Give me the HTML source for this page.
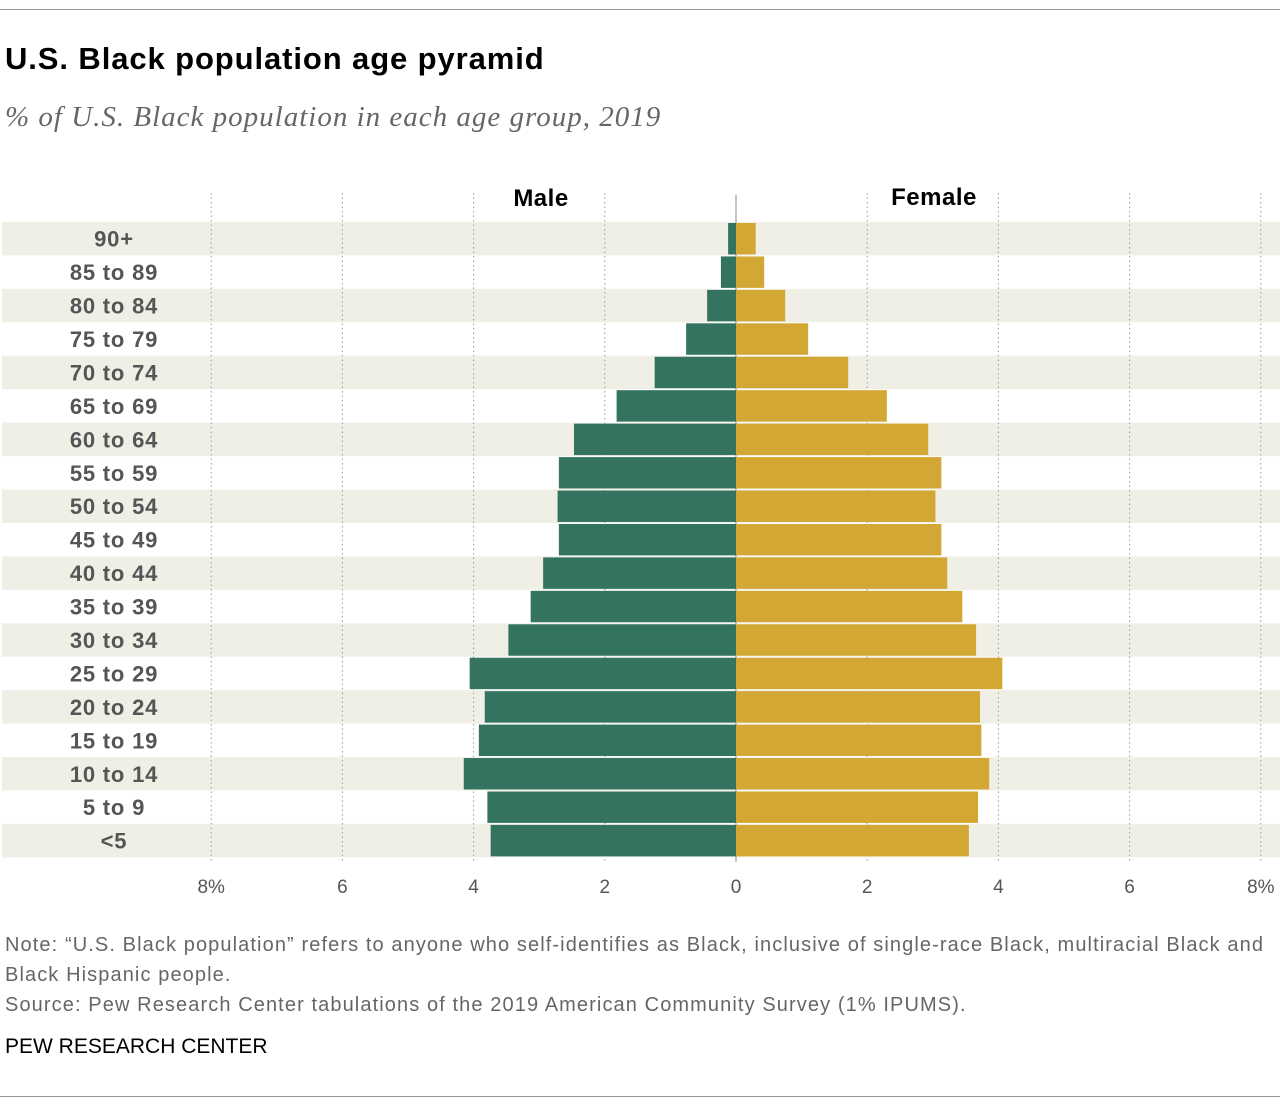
<!DOCTYPE html>
<html><head><meta charset="utf-8">
<style>
body{margin:0;background:#fff;font-family:"Liberation Sans",sans-serif;}
#wrap{position:relative;width:1280px;height:1119px;overflow:hidden;}
.rule{position:absolute;left:0;width:1280px;height:1px;background:#999;}
h1{position:absolute;left:5px;top:41px;margin:0;font-size:31px;letter-spacing:0.9px;font-weight:bold;color:#000;}
.sub{position:absolute;left:5px;top:101px;font-family:"Liberation Serif",serif;font-style:italic;font-size:29px;letter-spacing:1px;color:#666;}
.note{position:absolute;left:5px;top:930px;font-size:20px;letter-spacing:1.1px;line-height:30px;color:#666;width:1280px;}
.src{position:absolute;left:5px;top:1035px;font-size:21px;color:#000;}
</style></head><body>
<div id="wrap">
<div class="rule" style="top:9px"></div>
<h1>U.S. Black population age pyramid</h1>
<div class="sub">% of U.S. Black population in each age group, 2019</div>
<svg id="chart" width="1280" height="910" style="position:absolute;left:0;top:0"></svg>
<div class="note">Note: “U.S. Black population” refers to anyone who self-identifies as Black, inclusive of single-race Black, multiracial Black and Black Hispanic people.<br>Source: Pew Research Center tabulations of the 2019 American Community Survey (1% IPUMS).</div>
<div class="src">PEW RESEARCH CENTER</div>
<div class="rule" style="top:1096px"></div>
</div>
<script>
const categories=["90+","85 to 89","80 to 84","75 to 79","70 to 74","65 to 69","60 to 64","55 to 59","50 to 54","45 to 49","40 to 44","35 to 39","30 to 34","25 to 29","20 to 24","15 to 19","10 to 14","5 to 9","<5"];
const maleValues=[0.12,0.23,0.44,0.76,1.24,1.82,2.47,2.70,2.72,2.70,2.94,3.13,3.47,4.06,3.83,3.92,4.15,3.79,3.74];
const femaleValues=[0.30,0.43,0.75,1.10,1.71,2.30,2.93,3.13,3.04,3.13,3.22,3.45,3.66,4.06,3.72,3.74,3.86,3.69,3.55];
const tickValues=[8,6,4,2,0,2,4,6,8];
const tickLabels=["8%","6","4","2","0","2","4","6","8%"];
const NS="http://www.w3.org/2000/svg";
const svg=document.getElementById('chart');
const x0=736,unit=65.6,top0=222,step=33.44;
const xM=v=>x0-v*unit, xF=v=>x0+v*unit;
const y=i=>top0+i*step;
function mk(t,a){const e=document.createElementNS(NS,t);for(const k in a)e.setAttribute(k,a[k]);svg.appendChild(e);return e;}
categories.forEach((c,i)=>{
  if(i%2===0){const b=mk('rect',{x:2,y:y(i),width:1278,height:step,fill:'#f0efe6'});
  
  }
});
tickValues.forEach((v,i)=>{
  const xx=i<4?xM(v):(i===4?x0:xF(v));
  if(i!==4){const l=mk('line',{x1:xx,x2:xx,y1:193,y2:862,stroke:'#999','stroke-dasharray':'1.5,3','stroke-width':1});
  
  }
  const t=mk('text',{x:xx,y:893,'text-anchor':'middle','font-size':19,fill:'#555','font-family':'Liberation Sans, sans-serif'});
  t.textContent=tickLabels[i];
  
  
});
const z=mk('line',{x1:x0,x2:x0,y1:195,y2:862,stroke:'#888','stroke-width':1});


categories.forEach((c,i)=>{
  const m=mk('rect',{x:xM(maleValues[i]),y:y(i)+1,width:maleValues[i]*unit,height:step-2,fill:'#34735f'});
  
  
  const f=mk('rect',{x:x0,y:y(i)+1,width:femaleValues[i]*unit,height:step-2,fill:'#d3a733'});
  
  
  const t=mk('text',{x:114,y:y(i)+step/2+8,'text-anchor':'middle','font-size':22,'letter-spacing':0.8,'font-weight':'bold',fill:'#555','font-family':'Liberation Sans, sans-serif'});
  t.textContent=c;
  
  
});
const lm=mk('text',{x:541,y:206,'text-anchor':'middle','font-size':24,'letter-spacing':0.5,'font-weight':'bold',fill:'#000','font-family':'Liberation Sans, sans-serif'});
lm.textContent='Male';


const lf=mk('text',{x:934,y:205,'text-anchor':'middle','font-size':24,'letter-spacing':0.5,'font-weight':'bold',fill:'#000','font-family':'Liberation Sans, sans-serif'});
lf.textContent='Female';


</script>
</body></html>
